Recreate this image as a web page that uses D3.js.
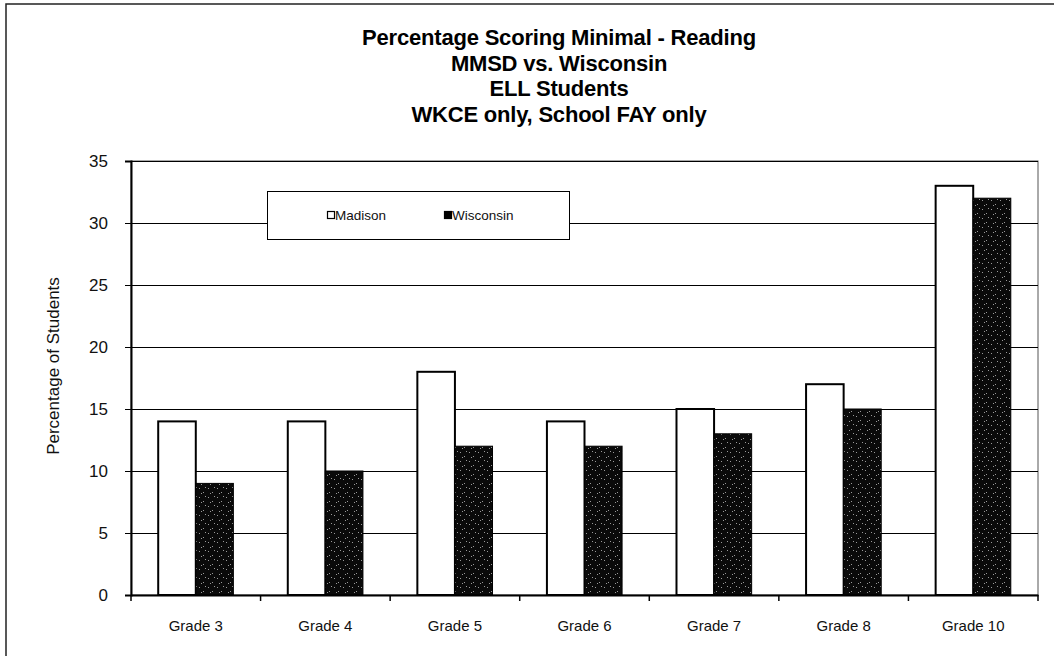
<!DOCTYPE html>
<html><head><meta charset="utf-8">
<script src="https://cdn.jsdelivr.net/npm/d3@7"></script>
<style>html,body{margin:0;padding:0;background:#fff;}svg{display:block;}</style>
</head><body>
<script>
const categories = ["Grade 3","Grade 4","Grade 5","Grade 6","Grade 7","Grade 8","Grade 10"];
const seriesNames = ["Madison","Wisconsin"];
const madison = [14,14,18,14,15,17,33];
const wisconsin = [9,10,12,12,13,15,32];
const yTicks = [0,5,10,15,20,25,30,35];
const titleLines = ["Percentage Scoring Minimal - Reading","MMSD vs. Wisconsin","ELL Students","WKCE only, School FAY only"];

const W=1054,H=656;
const FONT="Liberation Sans, Arial, sans-serif";
const svg=d3.select("body").append("svg").attr("width",W).attr("height",H);
const defs=svg.append("defs");
const pat=defs.append("pattern").attr("id","stip").attr("patternUnits","userSpaceOnUse").attr("width",9).attr("height",9);
pat.append("rect").attr("width",9).attr("height",9).attr("fill","#0a0a0a");
[[1,2],[5,6],[7,1],[3,7]].forEach(([x,y])=>pat.append("rect").attr("x",x).attr("y",y).attr("width",1).attr("height",1).attr("fill","#9a9a9a"));

// outer border
svg.append("rect").attr("x",6).attr("y",4).attr("width",W+10).attr("height",H+10).attr("fill","none").attr("stroke","#222").attr("stroke-width",1.5);

const m={l:131,r:1038,t:161,b:595};
const x=d3.scaleBand().domain(categories).range([m.l,m.r]).paddingInner(0.42).paddingOuter(0.21);
const x2=d3.scaleBand().domain(seriesNames).range([0,x.bandwidth()]);
const y=d3.scaleLinear().domain([0,35]).range([m.b,m.t]);

// plot border
svg.append("rect").attr("x",m.l).attr("y",m.t).attr("width",m.r-m.l).attr("height",m.b-m.t).attr("fill","none").attr("stroke","#555").attr("stroke-width",1);

// gridlines
svg.append("g").selectAll("line").data(yTicks.filter(d=>d>0)).join("line")
  .attr("x1",m.l).attr("x2",m.r).attr("y1",d=>Math.round(y(d))+0.5).attr("y2",d=>Math.round(y(d))+0.5)
  .attr("stroke","#000").attr("stroke-width",1);

// legend
const lg=svg.append("g");
lg.append("rect").attr("x",267.5).attr("y",191.5).attr("width",302).attr("height",48).attr("fill","#fff").attr("stroke","#000");
const lx=[327,444];
seriesNames.forEach((s,i)=>{
  lg.append("rect").attr("x",lx[i]+0.5).attr("y",211.5).attr("width",7).attr("height",7)
    .attr("fill",i===0?"#fff":"#000").attr("stroke","#000").attr("stroke-width",1.2);
  lg.append("text").attr("x",lx[i]+8).attr("y",220).text(s)
    .attr("font-family",FONT).attr("font-size",13.5).attr("fill","#111");
});

// bars
const g=svg.append("g");
categories.forEach((c,i)=>{
  const vals=[madison[i],wisconsin[i]];
  vals.forEach((v,j)=>{
    g.append("rect").attr("x",x(c)+x2(seriesNames[j])).attr("y",y(v)).attr("width",x2.bandwidth()).attr("height",y(0)-y(v))
      .attr("fill",j===0?"#fff":"url(#stip)").attr("stroke","#000").attr("stroke-width",j===0?2:1);
  });
});

// axes
const yAxis=svg.append("g").attr("transform",`translate(${m.l},0)`)
  .call(d3.axisLeft(y).tickValues(yTicks).tickSize(6).tickPadding(17));
yAxis.select(".domain").attr("stroke","#000").attr("stroke-width",2);
yAxis.selectAll("text").attr("font-family",FONT).attr("font-size",17).attr("fill","#111");

const xAxis=svg.append("g").attr("transform",`translate(0,${m.b})`)
  .call(d3.axisBottom(x).tickSize(0).tickPadding(25));
xAxis.select(".domain").attr("stroke","#000").attr("stroke-width",2);
xAxis.selectAll("text").attr("font-family",FONT).attr("font-size",15).attr("fill","#111");
// category separator ticks
svg.append("g").selectAll("line").data(d3.range(categories.length+1)).join("line")
  .attr("x1",i=>m.l+i*(m.r-m.l)/categories.length).attr("x2",i=>m.l+i*(m.r-m.l)/categories.length)
  .attr("y1",m.b).attr("y2",m.b+6).attr("stroke","#000").attr("stroke-width",1.5);

// y label
svg.append("text").attr("transform","translate(59,366) rotate(-90)").attr("text-anchor","middle")
  .attr("font-family",FONT).attr("font-size",17).attr("fill","#111")
  .text("Percentage of Students");

// title
svg.append("g").selectAll("text").data(titleLines).join("text")
  .attr("x",559).attr("y",(d,i)=>45+i*25.5).attr("text-anchor","middle")
  .attr("font-family",FONT).attr("font-weight","bold").attr("font-size",22).attr("fill","#000")
  .attr("letter-spacing",-0.2)
  .text(d=>d);
</script>
</body></html>
